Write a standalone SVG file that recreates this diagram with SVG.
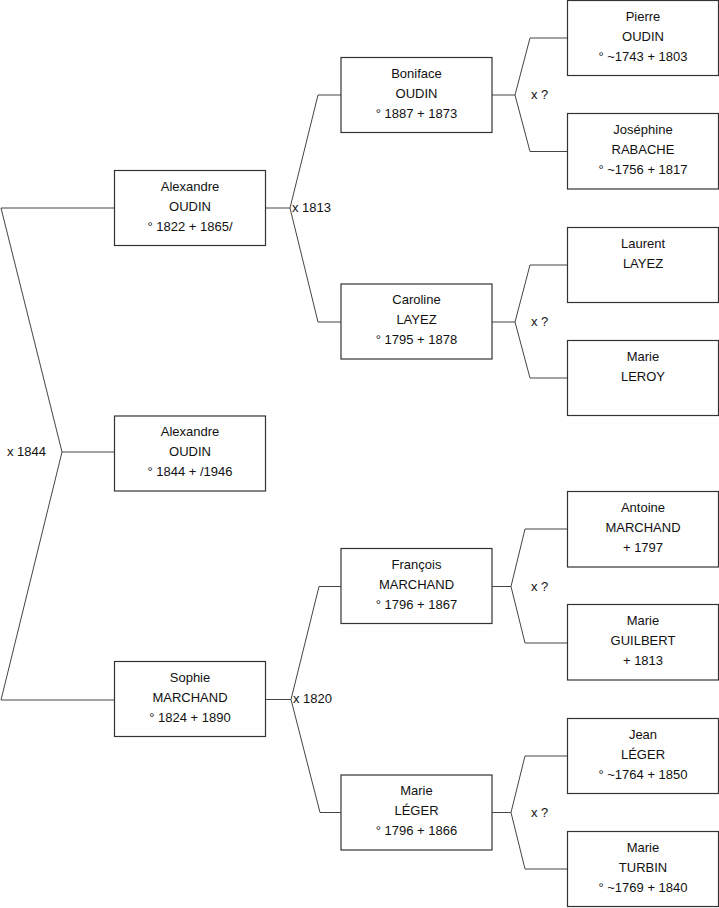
<svg xmlns="http://www.w3.org/2000/svg" width="719" height="908" viewBox="0 0 719 908">
<style>
.box{fill:#fff;stroke:#333;stroke-width:1.2}
.c{fill:none;stroke:#444;stroke-width:1}
text{font-family:"Liberation Sans",Arial,sans-serif;font-size:13px;fill:#111}
.t{text-anchor:middle;transform:translateY(-1px)}
</style>
<rect x="0" y="0" width="719" height="908" fill="#fff"/>
<g id="connectors">
<path class="c" d="M114.5,208 H1 L62,452 L1,700 H114.5 M62,452 H114.5"/>
<path class="c" d="M265.5,208 H290 M341,95 H318 L290,208 L318,322 H341"/>
<path class="c" d="M265.5,699.5 H291 M341,586.5 H319 L291,699.5 L320,812.5 H341"/>
<path class="c" d="M492,95 H515 M567.5,38 H530 L515,95 L530,151.5 H567.5"/>
<path class="c" d="M492,322 H515 M567.5,265 H530 L515,322 L530,378 H567.5"/>
<path class="c" d="M492,586.5 H511 M567.5,529 H525 L511,586.5 L525,643 H567.5"/>
<path class="c" d="M492,812.5 H511 M567.5,756 H525 L511,812.5 L525,869 H567.5"/>
<text x="7" y="456">x 1844</text>
<text x="292" y="212">x 1813</text>
<text x="293" y="703">x 1820</text>
<text x="531" y="99">x ?</text>
<text x="531" y="325.5">x ?</text>
<text x="531" y="590.5">x ?</text>
<text x="531" y="816.5">x ?</text>
</g>
<g id="n_alexandre1"><rect class="box" x="114.5" y="170.5" width="151" height="75"/><text class="t" x="190" y="191.5">Alexandre</text><text class="t" x="190" y="211.5">OUDIN</text><text class="t" x="190" y="231.5">° 1822 + 1865/</text></g>
<g id="n_alexandre2"><rect class="box" x="114.5" y="416" width="151" height="75"/><text class="t" x="190" y="437">Alexandre</text><text class="t" x="190" y="457">OUDIN</text><text class="t" x="190" y="477">° 1844 + /1946</text></g>
<g id="n_sophie"><rect class="box" x="114.5" y="661.5" width="151" height="75"/><text class="t" x="190" y="682.5">Sophie</text><text class="t" x="190" y="702.5">MARCHAND</text><text class="t" x="190" y="722.5">° 1824 + 1890</text></g>
<g id="n_boniface"><rect class="box" x="341" y="57.5" width="151" height="75"/><text class="t" x="416.5" y="78.5">Boniface</text><text class="t" x="416.5" y="98.5">OUDIN</text><text class="t" x="416.5" y="118.5">° 1887 + 1873</text></g>
<g id="n_caroline"><rect class="box" x="341" y="284" width="151" height="75"/><text class="t" x="416.5" y="305">Caroline</text><text class="t" x="416.5" y="325">LAYEZ</text><text class="t" x="416.5" y="345">° 1795 + 1878</text></g>
<g id="n_francois"><rect class="box" x="341" y="548.5" width="151" height="75"/><text class="t" x="416.5" y="569.5">François</text><text class="t" x="416.5" y="589.5">MARCHAND</text><text class="t" x="416.5" y="609.5">° 1796 + 1867</text></g>
<g id="n_marie_leger"><rect class="box" x="341" y="775" width="151" height="75"/><text class="t" x="416.5" y="796">Marie</text><text class="t" x="416.5" y="816">LÉGER</text><text class="t" x="416.5" y="836">° 1796 + 1866</text></g>
<g id="n_pierre"><rect class="box" x="567.5" y="0.5" width="151" height="75"/><text class="t" x="643" y="21.5">Pierre</text><text class="t" x="643" y="41.5">OUDIN</text><text class="t" x="643" y="61.5">° ~1743 + 1803</text></g>
<g id="n_josephine"><rect class="box" x="567.5" y="113.5" width="151" height="75.5"/><text class="t" x="643" y="134.5">Joséphine</text><text class="t" x="643" y="154.5">RABACHE</text><text class="t" x="643" y="174.5">° ~1756 + 1817</text></g>
<g id="n_laurent"><rect class="box" x="567.5" y="227.5" width="151" height="75"/><text class="t" x="643" y="248.5">Laurent</text><text class="t" x="643" y="268.5">LAYEZ</text></g>
<g id="n_marie_leroy"><rect class="box" x="567.5" y="340.5" width="151" height="75"/><text class="t" x="643" y="361.5">Marie</text><text class="t" x="643" y="381.5">LEROY</text></g>
<g id="n_antoine"><rect class="box" x="567.5" y="491.5" width="151" height="75.5"/><text class="t" x="643" y="512.5">Antoine</text><text class="t" x="643" y="532.5">MARCHAND</text><text class="t" x="643" y="552.5">+ 1797</text></g>
<g id="n_marie_guilbert"><rect class="box" x="567.5" y="604.5" width="151" height="75.5"/><text class="t" x="643" y="625.5">Marie</text><text class="t" x="643" y="645.5">GUILBERT</text><text class="t" x="643" y="665.5">+ 1813</text></g>
<g id="n_jean"><rect class="box" x="567.5" y="718.5" width="151" height="75"/><text class="t" x="643" y="739.5">Jean</text><text class="t" x="643" y="759.5">LÉGER</text><text class="t" x="643" y="779.5">° ~1764 + 1850</text></g>
<g id="n_marie_turbin"><rect class="box" x="567.5" y="831.5" width="151" height="75"/><text class="t" x="643" y="852.5">Marie</text><text class="t" x="643" y="872.5">TURBIN</text><text class="t" x="643" y="892.5">° ~1769 + 1840</text></g>
</svg>
